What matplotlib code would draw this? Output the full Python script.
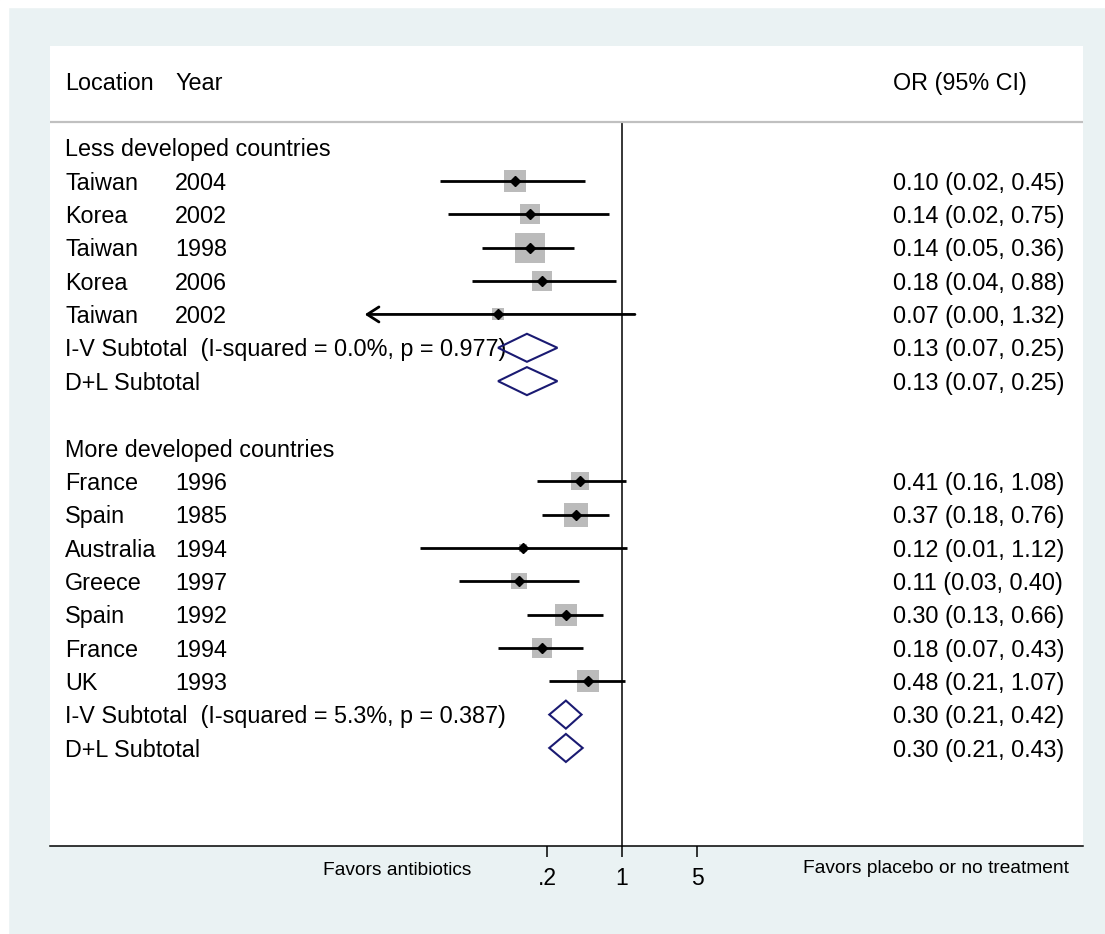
import numpy as np
import matplotlib
matplotlib.use("Agg")
import matplotlib.pyplot as plt
from matplotlib.patches import Polygon, Rectangle

plt.rcParams['font.family'] = ['Liberation Sans', 'DejaVu Sans']

# ── data ──────────────────────────────────────────────────────
less_title = "Less developed countries"
less_loc  = ["Taiwan", "Korea", "Taiwan", "Korea", "Taiwan"]
less_year = [2004, 2002, 1998, 2006, 2002]
less_or   = [0.10, 0.14, 0.14, 0.18, 0.07]
less_lo   = [0.02, 0.024, 0.05, 0.04, 0.002]
less_hi   = [0.45, 0.75, 0.36, 0.88, 1.32]
less_wt   = [19.6, 16.1, 40.1, 17.8, 6.4]
less_iv   = (0.13, 0.07, 0.25)
less_dl   = (0.13, 0.07, 0.25)
less_het  = (0.0, 0.977)

more_title = "More developed countries"
more_loc  = ["France", "Spain", "Australia", "Greece", "Spain", "France", "UK"]
more_year = [1996, 1985, 1994, 1997, 1992, 1994, 1993]
more_or   = [0.41, 0.37, 0.12, 0.11, 0.30, 0.18, 0.48]
more_lo   = [0.16, 0.18, 0.013, 0.03, 0.13, 0.07, 0.21]
more_hi   = [1.08, 0.76, 1.12, 0.40, 0.66, 0.43, 1.07]
more_wt   = [14.4, 23.5, 2.2, 10.0, 19.6, 17.8, 19.6]
more_iv   = (0.30, 0.21, 0.42)
more_dl   = (0.30, 0.21, 0.43)
more_het  = (5.3, 0.387)

xticks = [0.2, 1, 5]
xticklabels = [".2", "1", "5"]

# ── layout ────────────────────────────────────────────────────
W, H, DPI = 1105, 934, 100
DEC = 107.3                      # px per decade on the OR axis
XMIN = 0.004                     # left clip of CI lines (arrow)
X_LOC, X_YEAR, X_OR = (65 - 50) / 1033, (175 - 50) / 1033, (893 - 50) / 1033
BASE = 0.26                      # baseline offset in rows
FS = 16.8
BOX_C = "#bbbbbb"
DIA_C = "#1a1a72"
BOX_K = 4.75                     # box side px per sqrt(weight)

fig = plt.figure(figsize=(W / DPI, H / DPI), dpi=DPI, facecolor="#eaf2f3")
# thin white strip on top/left like the original export
fig.patches.append(Rectangle((0, 1 - 7 / H), 1, 7 / H, transform=fig.transFigure,
                             color="white", zorder=-10))
fig.patches.append(Rectangle((0, 0), 8 / W, 1, transform=fig.transFigure,
                             color="white", zorder=-10))

ax = fig.add_axes([50 / W, 88 / H, 1033 / W, 800 / H])
ax.set_facecolor("white")
ax.set_xscale("log")
ax.set_xlim(10 ** (-572 / DEC), 10 ** (461 / DEC))
ax.set_ylim(22.94, -1.05)
ax.set_yticks([])
for s in ("left", "top", "right"):
    ax.spines[s].set_visible(False)
ax.spines["bottom"].set_linewidth(1.1)
ax.set_xticks(xticks)
ax.set_xticklabels(xticklabels)
ax.minorticks_off()
ax.tick_params(axis="x", length=8, width=1.1, pad=7, labelsize=16.5)

tr = ax.get_yaxis_transform()   # x in axes fraction, y in rows


def txt(x, y, s):
    ax.text(x, y + BASE, s, transform=tr, fontsize=FS, va="baseline", ha="left")


def diamond(y, est, lo, hi):
    h = 0.42
    ax.add_patch(Polygon([(lo, y), (est, y - h), (hi, y), (est, y + h)],
                         closed=True, fill=False, edgecolor=DIA_C, lw=1.5, zorder=5))


def draw_group(y0, title, locs, years, ors, los, his, wts, iv, dl, het):
    txt(X_LOC, y0, title)
    for i in range(len(locs)):
        y = y0 + 1 + i
        txt(X_LOC, y, locs[i])
        txt(X_YEAR, y, str(years[i]))
        txt(X_OR, y, f"{ors[i]:.2f} ({los[i]:.2f}, {his[i]:.2f})")
        side = BOX_K * np.sqrt(wts[i])
        ax.plot([ors[i]], [y], marker="s", ms=side * 72 / DPI, color=BOX_C,
                mew=0, ls="none", zorder=2)
        if los[i] < XMIN:
            ax.annotate("", xy=(XMIN, y), xytext=(his[i], y),
                        arrowprops=dict(arrowstyle="->,head_length=0.7,head_width=0.45",
                                        lw=2, color="black", shrinkA=0, shrinkB=0,
                                        mutation_scale=12), zorder=3)
        else:
            ax.plot([los[i], his[i]], [y, y], color="black", lw=2, zorder=3,
                    solid_capstyle="butt")
        ax.plot([ors[i]], [y], marker="D", ms=5.5, color="black", ls="none", zorder=4)
    y = y0 + 1 + len(locs)
    txt(X_LOC, y, f"I-V Subtotal  (I-squared = {het[0]:.1f}%, p = {het[1]:.3f})")
    txt(X_OR, y, f"{iv[0]:.2f} ({iv[1]:.2f}, {iv[2]:.2f})")
    diamond(y, *iv)
    txt(X_LOC, y + 1, "D+L Subtotal")
    txt(X_OR, y + 1, f"{dl[0]:.2f} ({dl[1]:.2f}, {dl[2]:.2f})")
    diamond(y + 1, *dl)
    return y + 3


# header
txt(X_LOC, 0, "Location")
txt(X_YEAR, 0, "Year")
txt(X_OR, 0, "OR (95% CI)")
ax.axhline(1.23, color="#c0c0c0", lw=1.6)

# null line
ax.plot([1, 1], [1.23, 22.94], color="black", lw=1.1, zorder=1, clip_on=False)

y = draw_group(2, less_title, less_loc, less_year, less_or, less_lo, less_hi,
               less_wt, less_iv, less_dl, less_het)
draw_group(y, more_title, more_loc, more_year, more_or, more_lo, more_hi,
           more_wt, more_iv, more_dl, more_het)

ax.text(0.3359, -(875 - 846) / 800, "Favors antibiotics", transform=ax.transAxes,
        fontsize=13.8, ha="center", va="baseline")
ax.text(0.8572, -(873 - 846) / 800, "Favors placebo or no treatment",
        transform=ax.transAxes, fontsize=13.8, ha="center", va="baseline")

plt.savefig("out.png", dpi=DPI, facecolor=fig.get_facecolor())
